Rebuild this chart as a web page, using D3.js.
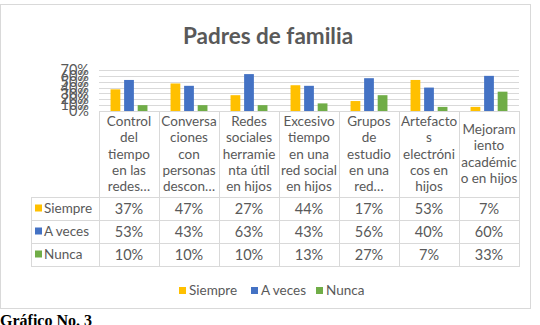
<!DOCTYPE html>
<html><head><meta charset="utf-8">
<script src="https://cdn.jsdelivr.net/npm/d3@7"></script>
<style>
html,body{margin:0;padding:0;background:#fff;}
svg{display:block;}
</style>
</head><body>
<svg id="chart" width="540" height="325"></svg>
<script>
const categories = [
  "Control\ndel\ntiempo\nen las\nredes…",
  "Conversa\nciones\ncon\npersonas\ndescon…",
  "Redes\nsociales\nherramie\nnta útil\nen hijos",
  "Excesivo\ntiempo\nen una\nred social\nen hijos",
  "Grupos\nde\nestudio\nen una\nred…",
  "Artefacto\ns\nelectróni\ncos en\nhijos",
  "Mejoram\niento\nacadémic\no en hijos"
];
const seriesNames = ["Siempre", "A veces", "Nunca"];
const siempre = [37, 47, 27, 44, 17, 53, 7];
const aVeces  = [53, 43, 63, 43, 56, 40, 60];
const nunca   = [10, 10, 10, 13, 27, 7, 33];
const yTicks  = [0, 10, 20, 30, 40, 50, 60, 70];
const colors  = ["#FFC000", "#4472C4", "#70AD47"];
const seriesValues = [siempre, aVeces, nunca];

const FONT = "Lato, 'Open Sans', sans-serif";
const TXT = "#595959";
const GRID = "#d9d9d9";

const svg = d3.select("#chart");

// chart frame
svg.append("rect").attr("x", 0.5).attr("y", 4.5).attr("width", 530).attr("height", 304)
  .attr("fill", "#fff").attr("stroke", GRID).attr("stroke-width", 1);

// title
svg.append("text").attr("x", 268).attr("y", 44).attr("text-anchor", "middle")
  .attr("font-family", FONT).attr("font-weight", "bold").attr("font-size", 22.5)
  .attr("fill", TXT).text("Padres de familia");

const plotL = 99, plotR = 519, plotT = 70, plotB = 111;
const x = d3.scaleBand().domain(d3.range(categories.length)).range([plotL, plotR]).padding(0);
const xs = d3.scaleBand().domain(d3.range(seriesNames.length)).range([0, x.bandwidth()])
  .paddingInner(0.28).paddingOuter(0.85);
const y = d3.scaleLinear().domain([0, 70]).range([plotB, plotT]);

// gridlines
svg.append("g").selectAll("line").data(yTicks).join("line")
  .attr("x1", plotL).attr("x2", plotR)
  .attr("y1", d => Math.round(y(d)) + 0.5).attr("y2", d => Math.round(y(d)) + 0.5)
  .attr("stroke", GRID).attr("stroke-width", 1);

// y axis labels
const yAxis = d3.axisLeft(y).tickValues(yTicks).tickFormat(d => d + "%").tickSize(0).tickPadding(0);
const ya = svg.append("g").attr("transform", `translate(89,0)`).call(yAxis);
ya.select(".domain").remove();
ya.selectAll("text").attr("font-family", FONT).attr("font-size", 14.5).attr("fill", TXT);

// bars
const rows = [];
seriesValues.forEach((vals, s) => vals.forEach((v, i) => rows.push({s, i, v})));
svg.append("g").selectAll("rect").data(rows).join("rect")
  .attr("x", d => x(d.i) + xs(d.s))
  .attr("width", xs.bandwidth())
  .attr("y", d => y(d.v))
  .attr("height", d => plotB - y(d.v))
  .attr("fill", d => colors[d.s]);

// data table
const tblL = 31, rowTop = 197, rowH = 23;
const tbl = svg.append("g");
tbl.selectAll("line.v").data(d3.range(categories.length + 1)).join("line")
  .attr("class", "v")
  .attr("x1", d => (d < categories.length ? x(d) : plotR) + 0.5)
  .attr("x2", d => (d < categories.length ? x(d) : plotR) + 0.5)
  .attr("y1", plotB).attr("y2", rowTop + rowH * 3)
  .attr("stroke", GRID);
tbl.append("line").attr("x1", tblL + 0.5).attr("x2", tblL + 0.5)
  .attr("y1", rowTop).attr("y2", rowTop + rowH * 3).attr("stroke", GRID);
tbl.selectAll("line.h").data(d3.range(4)).join("line")
  .attr("class", "h")
  .attr("x1", tblL).attr("x2", plotR + 1)
  .attr("y1", d => rowTop + d * rowH + 0.5).attr("y2", d => rowTop + d * rowH + 0.5)
  .attr("stroke", GRID);
tbl.append("line").attr("x1", plotL).attr("x2", plotR + 1)
  .attr("y1", plotB + 0.5).attr("y2", plotB + 0.5).attr("stroke", GRID);

// category labels
const lineH = 16.4;
categories.forEach((c, i) => {
  const lines = c.split("\n");
  const cx = x(i) + x.bandwidth() / 2;
  const midY = (plotB + rowTop) / 2;
  const first = midY - (lines.length - 1) * lineH / 2 + 4.5;
  const t = svg.append("text").attr("text-anchor", "middle")
    .attr("font-family", FONT).attr("font-size", 13.5).attr("fill", TXT);
  lines.forEach((ln, k) => {
    t.append("tspan").attr("x", cx).attr("y", first + k * lineH).text(ln);
  });
});

// row labels and values
seriesNames.forEach((name, s) => {
  const cy = rowTop + s * rowH + rowH / 2;
  svg.append("rect").attr("x", 35).attr("y", cy - 4).attr("width", 7).attr("height", 7).attr("fill", colors[s]);
  svg.append("text").attr("x", 44).attr("y", cy + 4.5)
    .attr("font-family", FONT).attr("font-size", 13.5).attr("fill", TXT).text(name);
  seriesValues[s].forEach((v, i) => {
    svg.append("text").attr("x", x(i) + x.bandwidth() / 2).attr("y", cy + 5)
      .attr("text-anchor", "middle").attr("font-family", FONT).attr("font-size", 14.5)
      .attr("fill", TXT).text(v + "%");
  });
});

// legend
const legX = [179, 251, 316];
seriesNames.forEach((name, s) => {
  svg.append("rect").attr("x", legX[s]).attr("y", 287).attr("width", 7).attr("height", 7).attr("fill", colors[s]);
  svg.append("text").attr("x", legX[s] + 10).attr("y", 295)
    .attr("font-family", FONT).attr("font-size", 13.5).attr("fill", TXT).text(name);
});

// caption below the chart (cut by the picture edge as in the reference)
svg.append("text").attr("x", 0).attr("y", 326)
  .attr("font-family", "'Liberation Serif', 'DejaVu Serif', serif").attr("font-weight", "bold")
  .attr("font-size", 16).attr("fill", "#000").text("Gráfico No. 3");
</script>
</body></html>
